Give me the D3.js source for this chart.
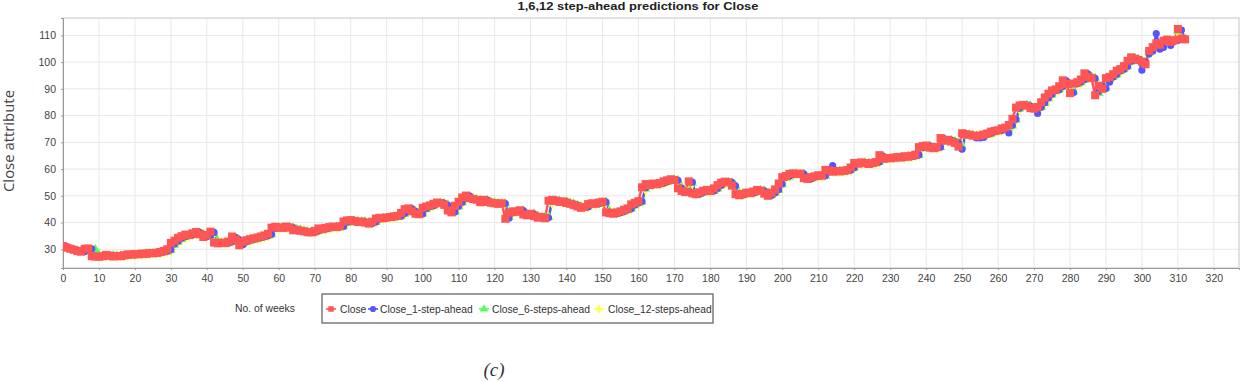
<!DOCTYPE html>
<html>
<head>
<meta charset="utf-8">
<script src="https://cdn.jsdelivr.net/npm/d3@7"></script>
<style>
  html, body { margin: 0; padding: 0; background: #fff; }
  svg { display: block; }
</style>
</head>
<body>
<div id="chart"></div>
<script>
// weekly Close values (week 0..312)
const close = [
  31.2, 30.6, 30.2, 29.8, 29.3, 29.1, 30.2, 30.3, 27.4, 27.3,
  27.2, 27.4, 27.9, 27.6, 27.3, 27.5, 27.4, 27.8, 28.1, 28.0,
  28.2, 28.1, 28.4, 28.3, 28.6, 28.5, 28.7, 29.0, 29.4, 30.0,
  32.4, 33.2, 34.3, 34.9, 35.5, 35.3, 36.0, 36.5, 35.6, 34.6,
  35.3, 36.6, 32.5, 32.2, 32.5, 32.3, 32.9, 34.8, 33.6, 31.5,
  32.9, 33.4, 33.8, 34.1, 34.4, 34.8, 35.2, 35.8, 38.1, 38.4,
  38.2, 38.0, 38.5, 38.1, 37.1, 37.3, 36.9, 36.7, 36.4, 36.3,
  36.9, 37.8, 37.5, 38.0, 38.3, 38.5, 38.3, 38.6, 40.4, 40.8,
  40.9, 40.5, 40.2, 40.4, 40.0, 39.6, 40.3, 41.5, 41.8, 41.6,
  41.9, 42.1, 42.3, 42.5, 43.6, 45.0, 45.3, 44.2, 43.3, 43.1,
  45.5, 46.0, 46.4, 47.0, 47.5, 47.3, 46.6, 44.5, 43.8, 46.3,
  47.8, 49.4, 50.1, 49.1, 48.8, 48.5, 47.6, 48.5, 47.7, 47.4,
  47.2, 47.0, 47.2, 41.4, 43.7, 44.2, 44.0, 44.6, 43.0, 42.7,
  43.3, 42.4, 41.8, 42.1, 41.6, 48.2, 48.5, 48.2, 47.7, 47.9,
  47.3, 47.0, 46.5, 46.0, 45.5, 45.8, 46.9, 47.2, 47.0, 47.5,
  47.8, 43.8, 43.5, 43.3, 43.8, 44.2, 44.8, 45.3, 46.8, 47.4,
  48.0, 53.2, 54.4, 54.0, 54.6, 54.3, 54.8, 55.4, 55.8, 56.2,
  55.9, 52.8, 51.8, 51.4, 55.4, 50.9, 50.6, 51.3, 51.9, 52.2,
  51.8, 52.8, 54.0, 54.9, 55.3, 55.0, 53.8, 50.6, 50.2, 50.7,
  51.2, 51.0, 51.6, 52.2, 51.9, 50.8, 50.0, 51.2, 52.4, 54.6,
  57.0, 57.4, 58.2, 58.4, 58.1, 58.3, 56.6, 56.3, 57.0, 57.3,
  57.7, 57.5, 59.7, 59.5, 59.0, 59.3, 59.1, 59.4, 59.6, 60.6,
  62.3, 62.0, 62.5, 62.2, 61.9, 62.3, 62.6, 65.2, 63.8, 64.1,
  64.0, 64.3, 64.5, 64.3, 64.8, 64.6, 65.0, 65.4, 68.2, 68.6,
  68.8, 68.0, 67.8, 68.3, 71.6, 70.6, 70.9, 70.3, 69.8, 68.4,
  73.4, 73.0, 72.8, 72.5, 72.3, 72.6, 72.9, 73.3, 74.0, 74.3,
  74.5, 75.2, 75.5, 76.5, 78.8, 83.0, 83.8, 84.0, 83.7, 82.8,
  82.6, 83.2, 85.0, 86.8, 88.2, 89.4, 89.8, 91.0, 93.2, 91.8,
  88.4, 92.0, 92.5, 93.5, 95.8, 94.5, 94.0, 87.6, 91.2, 90.0,
  94.0, 94.5, 95.5, 96.8, 97.4, 98.5, 100.5, 101.8, 101.2, 100.8,
  100.2, 99.2, 104.2, 105.6, 107.0, 106.5, 108.0, 108.4, 107.6, 108.2,
  112.4, 108.8, 108.5
];

// 1-step-ahead predictions (mostly hidden under Close)
const step1 = [
  null, 31.0, 30.5, 30.1, 29.7, 29.3, 29.1, 30.1, 30.2, 27.5,
  27.3, 27.2, 27.4, 27.8, 27.6, 27.3, 27.4, 27.4, 27.7, 28.0,
  27.9, 28.1, 28.1, 28.3, 28.3, 28.5, 28.5, 28.6, 28.9, 29.3,
  29.8, 32.0, 33.0, 34.1, 34.7, 35.3, 35.3, 35.9, 36.3, 35.6,
  34.7, 35.2, 36.3, 32.6, 32.3, 32.4, 32.3, 32.8, 34.5, 33.6,
  31.7, 32.8, 33.3, 33.7, 34.0, 34.3, 34.7, 35.1, 35.6, 37.8,
  38.3, 38.1, 38.0, 38.4, 38.1, 37.2, 37.2, 36.9, 36.6, 36.4,
  36.3, 36.8, 37.6, 37.5, 37.9, 38.2, 38.4, 38.3, 38.5, 40.1,
  40.7, 40.8, 40.5, 40.2, 40.3, 40.0, 39.6, 40.2, 41.3, 41.7,
  41.6, 41.9, 42.0, 42.2, 42.4, 43.4, 44.8, 45.2, 44.2, 43.4,
  43.2, 45.2, 45.9, 46.3, 46.9, 47.4, 47.2, 46.5, 44.6, 43.9,
  46.1, 47.6, 49.2, 50.0, 49.1, 48.7, 48.4, 47.6, 48.4, 47.7,
  47.4, 47.2, 47.0, 47.1, 41.6, 43.6, 44.1, 44.0, 44.5, 43.1,
  42.8, 43.2, 42.4, 41.8, 42.0, 41.8, 48.0, 48.4, 48.1, 47.7,
  47.8, 47.3, 47.0, 46.5, 46.0, 45.6, 45.8, 46.8, 47.1, 47.0,
  47.4, 47.7, 43.9, 43.5, 43.3, 43.7, 44.1, 44.7, 45.2, 46.6,
  47.3, 47.9, 53.0, 54.3, 54.0, 54.5, 54.3, 54.7, 55.3, 55.7,
  56.1, 55.8, 52.9, 51.8, 51.5, 55.1, 50.4, 50.6, 51.2, 51.8,
  52.1, 51.8, 52.7, 53.9, 54.8, 55.2, 55.0, 53.7, 50.7, 50.2,
  50.7, 51.1, 51.0, 51.5, 52.1, 51.9, 50.8, 50.1, 51.1, 52.3,
  54.4, 56.9, 57.3, 58.1, 58.3, 58.1, 58.2, 56.7, 56.3, 56.9,
  57.2, 57.6, 57.5, 59.6, 61.3, 59.1, 59.3, 59.1, 59.3, 59.6,
  60.5, 62.2, 62.0, 62.4, 62.2, 61.9, 62.3, 62.6, 64.9, 63.8,
  64.0, 64.0, 64.2, 64.4, 64.3, 64.7, 64.6, 64.9, 65.3, 68.0,
  68.5, 68.7, 68.0, 67.8, 68.2, 71.4, 70.6, 70.8, 70.3, 69.8,
  67.4, 73.2, 73.0, 72.7, 71.6, 71.6, 71.8, 72.9, 73.3, 73.9,
  74.2, 74.4, 75.1, 73.5, 76.4, 78.6, 82.7, 83.7, 83.9, 83.6,
  82.8, 80.8, 83.1, 84.8, 86.6, 88.0, 89.3, 89.7, 90.9, 93.0,
  91.7, 88.6, 91.9, 92.5, 93.4, 95.6, 94.4, 93.9, 89.0, 91.1,
  90.1, 92.5, 94.4, 95.4, 96.7, 97.3, 98.4, 100.3, 101.6, 101.1,
  97.0, 100.1, 103.0, 104.1, 110.7, 104.8, 105.5, 108.2, 106.2, 107.7,
  108.1, 112.0, 108.7
];

// 6-steps-ahead predictions
const step6 = [
  null, null, null, null, null, null, 29.4, 29.6, 29.2, 30.0,
  28.0, 27.5, 27.3, 27.5, 27.7, 27.5, 27.4, 27.5, 27.6, 27.9,
  28.0, 28.1, 28.2, 28.3, 28.3, 28.4, 28.5, 28.6, 28.8, 29.1,
  29.6, 31.6, 32.8, 33.8, 34.5, 35.0, 35.3, 35.8, 36.1, 35.7,
  34.9, 35.1, 36.0, 33.0, 32.5, 32.4, 32.4, 32.7, 34.2, 33.6,
  32.0, 32.7, 33.2, 33.6, 33.9, 34.2, 34.6, 35.0, 35.5, 37.5,
  38.1, 38.1, 38.0, 38.3, 38.1, 37.4, 37.2, 36.9, 36.7, 36.5,
  36.4, 36.7, 37.4, 37.5, 37.8, 38.1, 38.3, 38.3, 38.5, 39.8,
  40.5, 40.7, 40.5, 40.3, 40.3, 40.0, 39.7, 40.1, 41.1, 41.6,
  41.6, 41.8, 42.0, 42.2, 42.4, 43.2, 44.6, 45.0, 44.3, 43.5,
  43.3, 45.0, 45.7, 46.2, 46.8, 47.3, 47.2, 46.6, 44.9, 44.0,
  45.9, 47.4, 49.0, 49.8, 49.1, 48.7, 48.4, 47.7, 48.3, 47.7,
  47.4, 47.2, 47.0, 47.1, 42.0, 43.5, 44.0, 44.0, 44.4, 43.2,
  42.8, 43.2, 42.5, 41.9, 42.0, 42.0, 47.6, 48.3, 48.1, 47.7,
  47.8, 47.3, 47.0, 46.5, 46.1, 45.6, 45.8, 46.7, 47.0, 47.0,
  47.4, 47.6, 44.2, 43.6, 43.4, 43.7, 44.1, 44.6, 45.1, 46.4,
  47.2, 47.8, 52.6, 54.1, 54.0, 54.4, 54.3, 54.7, 55.2, 55.6,
  56.0, 55.8, 53.1, 51.9, 51.6, 54.8, 50.8, 50.7, 51.2, 51.7,
  52.0, 51.8, 52.6, 53.8, 54.7, 55.1, 55.0, 53.8, 50.9, 50.3,
  50.7, 51.1, 51.0, 51.5, 52.0, 51.9, 50.9, 50.2, 51.0, 52.2,
  54.2, 56.7, 57.2, 58.0, 58.2, 58.1, 58.2, 56.8, 56.4, 56.9,
  57.2, 57.5, 57.5, 59.4, 59.4, 59.1, 59.2, 59.1, 59.3, 59.5,
  60.4, 62.0, 62.0, 62.4, 62.2, 62.0, 62.2, 62.5, 64.7, 63.9,
  64.0, 64.0, 64.2, 64.4, 64.3, 64.7, 64.6, 64.9, 65.2, 67.8,
  68.4, 68.7, 68.1, 67.8, 68.1, 71.2, 70.6, 70.8, 70.4, 69.9,
  68.6, 73.0, 72.9, 72.7, 72.4, 72.5, 72.8, 73.1, 73.2, 73.8,
  74.1, 74.4, 75.0, 75.4, 76.2, 78.4, 82.5, 83.6, 83.9, 83.6,
  82.9, 82.8, 83.0, 84.6, 86.4, 87.8, 89.2, 89.7, 90.8, 92.8,
  91.8, 88.9, 91.7, 92.4, 93.3, 95.4, 94.5, 94.0, 88.3, 91.0,
  90.3, 93.6, 94.3, 95.3, 96.6, 97.2, 98.3, 100.1, 101.5, 101.1,
  100.5, 99.6, 103.6, 105.2, 106.6, 106.4, 107.7, 108.2, 107.7, 108.1,
  111.6, 109.0, 108.6
];

// 12-steps-ahead predictions
const step12 = [
  null, null, null, null, null, null, null, null, null, null,
  null, null, 27.6, 27.5, 27.5, 27.4, 27.5, 27.5, 27.6, 27.8,
  27.9, 28.0, 28.1, 28.2, 28.3, 28.4, 28.5, 28.6, 28.8, 29.1,
  29.5, 31.4, 32.6, 33.6, 34.3, 34.9, 35.2, 35.7, 36.0, 35.7,
  35.0, 35.1, 35.8, 33.2, 32.6, 32.5, 32.4, 32.7, 34.0, 33.6,
  32.2, 32.7, 33.2, 33.5, 33.8, 34.2, 34.5, 34.9, 35.4, 37.3,
  38.0, 38.1, 38.0, 38.2, 38.1, 37.5, 37.3, 37.0, 36.7, 36.5,
  36.4, 36.7, 37.3, 37.5, 37.8, 38.1, 38.3, 38.3, 38.5, 39.6,
  40.4, 40.6, 40.5, 40.3, 40.3, 40.0, 39.8, 40.1, 41.0, 41.5,
  41.6, 41.8, 42.0, 42.2, 42.4, 43.0, 44.4, 44.9, 44.3, 43.6,
  43.4, 44.8, 45.6, 46.1, 46.7, 47.2, 47.2, 46.7, 45.1, 44.2,
  45.7, 47.2, 48.8, 49.7, 49.1, 48.7, 48.4, 47.8, 48.3, 47.8,
  47.5, 47.3, 47.1, 47.1, 42.4, 43.4, 43.9, 44.0, 44.3, 43.3,
  42.9, 43.1, 42.6, 42.0, 42.0, 42.1, 47.2, 48.2, 48.1, 47.7,
  47.8, 47.4, 47.1, 46.6, 46.1, 45.7, 45.8, 46.6, 47.0, 47.0,
  47.3, 47.6, 44.5, 43.8, 43.5, 43.7, 44.1, 44.6, 45.0, 46.2,
  47.0, 47.7, 52.2, 53.9, 54.0, 54.4, 54.3, 54.6, 55.1, 55.5,
  55.9, 55.8, 53.4, 52.0, 51.7, 54.5, 51.0, 50.8, 51.2, 51.7,
  52.0, 51.8, 52.5, 53.6, 54.6, 55.0, 54.9, 53.9, 51.2, 50.4,
  50.7, 51.1, 51.0, 51.4, 52.0, 51.9, 51.0, 50.3, 51.0, 52.1,
  54.0, 56.5, 57.1, 57.9, 58.2, 58.1, 58.2, 56.9, 56.5, 56.9,
  57.2, 57.5, 57.5, 59.2, 59.4, 59.1, 59.2, 59.1, 59.3, 59.5,
  60.3, 61.8, 62.0, 62.3, 62.2, 62.0, 62.2, 62.5, 64.5, 63.9,
  64.0, 64.0, 64.2, 64.3, 64.3, 64.6, 64.6, 64.9, 65.2, 67.6,
  68.3, 68.6, 68.1, 67.9, 68.1, 71.0, 70.6, 70.7, 70.4, 69.9,
  68.8, 72.8, 72.9, 72.7, 72.4, 72.5, 72.7, 73.0, 73.2, 73.7,
  74.0, 74.3, 74.9, 75.3, 76.1, 78.2, 82.2, 83.5, 83.8, 83.6,
  83.0, 82.9, 83.0, 84.4, 86.2, 87.6, 89.0, 89.6, 90.7, 92.6,
  91.8, 89.2, 91.5, 92.3, 93.2, 95.2, 94.5, 94.1, 88.8, 90.9,
  90.4, 93.4, 94.2, 95.2, 96.5, 97.1, 98.2, 99.9, 101.3, 101.1,
  100.6, 99.8, 103.2, 104.9, 106.4, 106.4, 107.5, 108.1, 107.8, 108.0,
  111.2, 109.1, 108.7
];

const seriesNames = ["Close", "Close_1-step-ahead", "Close_6-steps-ahead", "Close_12-steps-ahead"];
const seriesValues = [close, step1, step6, step12];
const seriesColors = ["#ff5555", "#5555ff", "#55ff55", "#ffff55"];
const seriesShapes = [d3.symbolSquare, d3.symbolCircle, d3.symbolTriangle, d3.symbolDiamond];

const xTicks = d3.range(0, 321, 10);
const yTicks = [30, 40, 50, 60, 70, 80, 90, 100, 110];

const W = 1248, H = 381;
const plot = {left: 63, top: 18, right: 1239, bottom: 268};

const svg = d3.select("#chart").append("svg").attr("width", W).attr("height", H)
    .style("font-family", "'Liberation Sans', Arial, sans-serif");

const x = d3.scaleLinear().domain([0, 327]).range([plot.left, plot.right]);
const y = d3.scaleLinear().domain([23, 116.5]).range([plot.bottom, plot.top]);

// title (sits right at the top edge, as in the source)
svg.append("text").text("1,6,12 step-ahead predictions for Close")
    .attr("x", 638).attr("y", 9.5).attr("text-anchor", "middle")
    .attr("font-size", 11).attr("font-weight", "bold").attr("fill", "#222")
    .attr("textLength", 241).attr("lengthAdjust", "spacingAndGlyphs");

// plot background + grid
svg.append("rect").attr("x", plot.left).attr("y", plot.top)
    .attr("width", plot.right - plot.left).attr("height", plot.bottom - plot.top).attr("fill", "#fff");
const grid = svg.append("g");
grid.selectAll("line.gx").data(xTicks.filter(d => d > 0)).join("line").attr("class", "gx")
    .attr("x1", d => x(d)).attr("x2", d => x(d)).attr("y1", plot.top).attr("y2", plot.bottom)
    .attr("stroke", "#e9e9e9").attr("stroke-width", 1);
grid.selectAll("line.gy").data(yTicks).join("line").attr("class", "gy")
    .attr("x1", plot.left).attr("x2", plot.right).attr("y1", d => y(d)).attr("y2", d => y(d))
    .attr("stroke", "#e9e9e9").attr("stroke-width", 1);
svg.append("rect").attr("x", plot.left).attr("y", plot.top)
    .attr("width", plot.right - plot.left).attr("height", plot.bottom - plot.top)
    .attr("fill", "none").attr("stroke", "#c4c4c4").attr("stroke-width", 1);

// axes
const xAxis = svg.append("g").attr("transform", `translate(0,${plot.bottom})`)
    .call(d3.axisBottom(x).tickValues(xTicks).tickSize(2).tickPadding(5));
const yAxis = svg.append("g").attr("transform", `translate(${plot.left},0)`)
    .call(d3.axisLeft(y).tickValues(yTicks).tickSize(2).tickPadding(5));
[xAxis, yAxis].forEach(a => {
    a.select(".domain").attr("stroke", "#999");
    a.selectAll(".tick line").attr("stroke", "#999");
    a.selectAll(".tick text").attr("fill", "#444").attr("font-size", 10.5)
        .attr("font-family", "'Liberation Sans', Arial, sans-serif");
});

// axis labels
svg.append("text").text("Close attribute")
    .attr("transform", "translate(14,141) rotate(-90)").attr("text-anchor", "middle")
    .attr("font-size", 14).attr("fill", "#444").attr("font-family", "'Open Sans', sans-serif")
    .attr("textLength", 102).attr("lengthAdjust", "spacingAndGlyphs");
svg.append("text").text("No. of weeks")
    .attr("x", 235).attr("y", 312).attr("font-size", 11).attr("fill", "#333")
    .attr("textLength", 60).attr("lengthAdjust", "spacingAndGlyphs");

// data: lines first (reverse order), then shapes (reverse order, Close on top)
const order = [3, 2, 1, 0];
const lineGen = d3.line().defined(d => d.v != null).x(d => x(d.w)).y(d => y(d.v));
const clip = svg.append("clipPath").attr("id", "clip").append("rect")
    .attr("x", plot.left).attr("y", plot.top).attr("width", plot.right - plot.left).attr("height", plot.bottom - plot.top);
const dataG = svg.append("g").attr("clip-path", "url(#clip)");
const pts = seriesValues.map(vals => vals.map((v, w) => ({w, v})));
order.forEach(i => {
    dataG.append("path").datum(pts[i]).attr("d", lineGen)
        .attr("fill", "none").attr("stroke", seriesColors[i]).attr("stroke-width", 2.5);
});
const sizes = [64, 40, 38, 38];
order.forEach(i => {
    dataG.append("g").selectAll("path").data(pts[i].filter(d => d.v != null)).join("path")
        .attr("transform", d => `translate(${x(d.w)},${y(d.v)})`)
        .attr("d", d3.symbol(seriesShapes[i], sizes[i]))
        .attr("fill", seriesColors[i]);
});

// legend
const legend = svg.append("g");
legend.append("rect").attr("x", 322).attr("y", 294).attr("width", 391).attr("height", 29)
    .attr("fill", "#fff").attr("stroke", "#666").attr("stroke-width", 1.3);
const legendMarkX = [331, 373, 484, 599];
const legendTextX = [340, 380, 492, 608];
seriesNames.forEach((name, i) => {
    legend.append("line").attr("x1", legendMarkX[i] - 5).attr("x2", legendMarkX[i] + 5)
        .attr("y1", 309).attr("y2", 309).attr("stroke", seriesColors[i]).attr("stroke-width", 1.6);
    legend.append("path").attr("transform", `translate(${legendMarkX[i]},309)`)
        .attr("d", d3.symbol(seriesShapes[i], 30)).attr("fill", seriesColors[i]);
    legend.append("text").text(name).attr("x", legendTextX[i]).attr("y", 313)
        .attr("font-size", 10.3).attr("fill", "#333");
});

// panel caption at the bottom edge
svg.append("text").text("(c)").attr("x", 494).attr("y", 376).attr("text-anchor", "middle")
    .attr("font-size", 19).attr("font-style", "italic").attr("fill", "#333")
    .attr("font-family", "'Liberation Serif', serif");
</script>
</body>
</html>
